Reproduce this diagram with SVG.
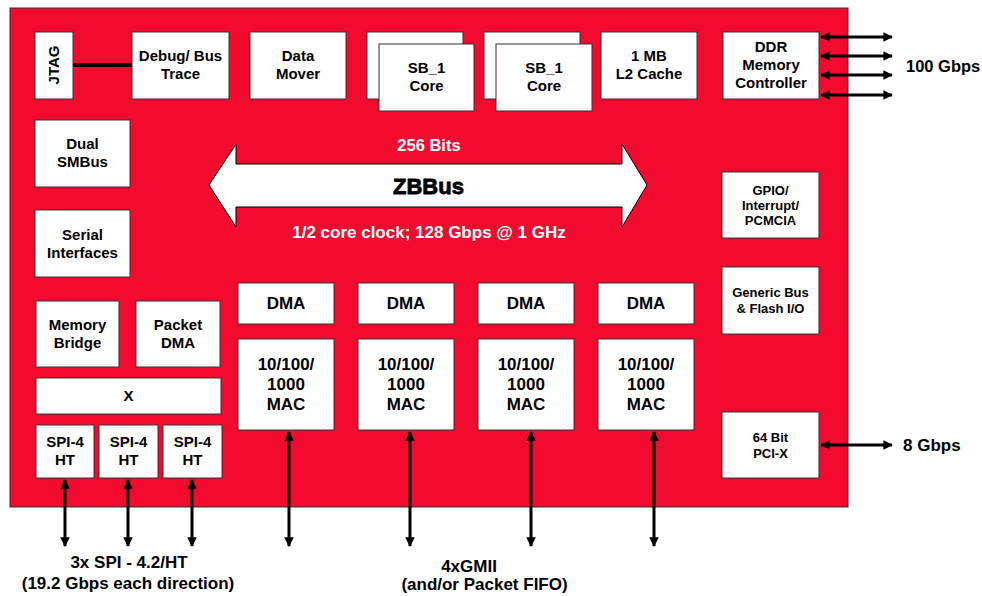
<svg xmlns="http://www.w3.org/2000/svg" width="982" height="596" viewBox="0 0 982 596">
<defs>
<marker id="ah" viewBox="0 0 10 10" refX="9" refY="5" markerWidth="3.6" markerHeight="3.2" orient="auto-start-reverse" markerUnits="strokeWidth">
<path d="M0,0 L10,5 L0,10 z" fill="#000"/>
</marker>
<style>
.bx{fill:#fff;stroke:#333;stroke-width:1}
.t{font-family:"Liberation Sans",Arial,sans-serif;font-weight:bold;fill:#000;text-anchor:middle}
.s14{font-size:15px}
.s16{font-size:17px}
.s12{font-size:13px}
.w{fill:#fff}
.cn{stroke:#000;stroke-width:3;fill:none;marker-start:url(#ah);marker-end:url(#ah)}
</style>
</defs>
<rect x="10" y="8" width="838" height="499" fill="#F50A2F" stroke="#333" stroke-width="1"/>

<g id="connectors">
<line x1="73" y1="65" x2="132" y2="65" stroke="#000" stroke-width="4"/>
<line class="cn" x1="821" y1="37" x2="892" y2="37"/>
<line class="cn" x1="821" y1="56" x2="892" y2="56"/>
<line class="cn" x1="821" y1="75" x2="892" y2="75"/>
<line class="cn" x1="821" y1="95" x2="892" y2="95"/>
<line class="cn" x1="821" y1="445" x2="892" y2="445"/>
<line class="cn" x1="65" y1="480" x2="65" y2="546"/>
<line class="cn" x1="128" y1="480" x2="128" y2="546"/>
<line class="cn" x1="192" y1="480" x2="192" y2="546"/>
<line class="cn" x1="289" y1="432" x2="289" y2="546"/>
<line class="cn" x1="410" y1="432" x2="410" y2="546"/>
<line class="cn" x1="531" y1="432" x2="531" y2="546"/>
<line class="cn" x1="654" y1="432" x2="654" y2="546"/>
</g>

<g id="zbbus">
<polygon points="209,185 236,144 236,164 622,164 622,144 647,185 622,227 622,207 236,207 236,227" fill="#fff" stroke="#000" stroke-width="1"/>
<text class="t w" x="429" y="151" font-size="16.5">256 Bits</text>
<text class="t" x="428.5" y="194" font-size="22" stroke="#000" stroke-width="0.8">ZBBus</text>
<text class="t w" x="429" y="238" font-size="17">1/2 core clock; 128 Gbps @ 1 GHz</text>
</g>

<g id="jtag"><rect class="bx" x="35" y="32" width="38" height="67"/><text class="t s14" transform="translate(59,65) rotate(-90)">JTAG</text></g>
<g id="debug"><rect class="bx" x="132" y="32" width="97" height="67"/><text class="t s14" x="180.5" y="61">Debug/ Bus</text><text class="t s14" x="180.5" y="79">Trace</text></g>
<g id="datamover"><rect class="bx" x="250" y="32" width="96" height="67"/><text class="t s14" x="298" y="61">Data</text><text class="t s14" x="298" y="79">Mover</text></g>
<g id="sb1a"><rect class="bx" x="367" y="32" width="96" height="67"/><rect class="bx" x="379" y="44" width="95" height="67"/><text class="t s14" x="426.5" y="73">SB_1</text><text class="t s14" x="426.5" y="91">Core</text></g>
<g id="sb1b"><rect class="bx" x="484" y="32" width="96" height="67"/><rect class="bx" x="496" y="44" width="96" height="67"/><text class="t s14" x="544" y="73">SB_1</text><text class="t s14" x="544" y="91">Core</text></g>
<g id="l2"><rect class="bx" x="601" y="32" width="96" height="67"/><text class="t s14" x="649" y="61">1 MB</text><text class="t s14" x="649" y="79">L2 Cache</text></g>
<g id="ddr"><rect class="bx" x="723" y="32" width="96" height="67"/><text class="t s14" x="771" y="52">DDR</text><text class="t s14" x="771" y="70">Memory</text><text class="t s14" x="771" y="88">Controller</text></g>
<text class="t" font-size="16.5" x="906" y="72" style="text-anchor:start">100 Gbps</text>

<g id="smbus"><rect class="bx" x="35" y="120" width="95" height="67"/><text class="t s14" x="82.5" y="149">Dual</text><text class="t s14" x="82.5" y="167">SMBus</text></g>
<g id="serial"><rect class="bx" x="35" y="210" width="95" height="67"/><text class="t s14" x="82.5" y="240">Serial</text><text class="t s14" x="82.5" y="258">Interfaces</text></g>

<g id="gpio"><rect class="bx" x="722" y="172" width="97" height="66"/><text class="t s12" x="770.5" y="195">GPIO/</text><text class="t s12" x="770.5" y="210">Interrupt/</text><text class="t s12" x="770.5" y="225">PCMCIA</text></g>
<g id="generic"><rect class="bx" x="722" y="267" width="97" height="67"/><text class="t s12" x="770.5" y="297">Generic Bus</text><text class="t s12" x="770.5" y="313">&amp; Flash I/O</text></g>
<g id="pcix"><rect class="bx" x="722" y="412" width="97" height="66"/><text class="t s12" x="770.5" y="442">64 Bit</text><text class="t s12" x="770.5" y="458">PCI-X</text></g>
<text class="t" font-size="17" x="903" y="451" style="text-anchor:start">8 Gbps</text>

<g id="membridge"><rect class="bx" x="36" y="301" width="83" height="66"/><text class="t s14" x="77.5" y="330">Memory</text><text class="t s14" x="77.5" y="348">Bridge</text></g>
<g id="packetdma"><rect class="bx" x="136" y="301" width="84" height="66"/><text class="t s14" x="178" y="330">Packet</text><text class="t s14" x="178" y="348">DMA</text></g>
<g id="x"><rect class="bx" x="36" y="378" width="185" height="36"/><text class="t s14" x="128.5" y="401">X</text></g>
<g id="spi1"><rect class="bx" x="36" y="425" width="58" height="53"/><text class="t s14" x="65" y="447">SPI-4</text><text class="t s14" x="65" y="465">HT</text></g>
<g id="spi2"><rect class="bx" x="99" y="425" width="59" height="53"/><text class="t s14" x="128.5" y="447">SPI-4</text><text class="t s14" x="128.5" y="465">HT</text></g>
<g id="spi3"><rect class="bx" x="163" y="425" width="59" height="53"/><text class="t s14" x="192.5" y="447">SPI-4</text><text class="t s14" x="192.5" y="465">HT</text></g>

<g id="dma1"><rect class="bx" x="238" y="283" width="96" height="41"/><text class="t s16" x="286" y="309">DMA</text></g>
<g id="dma2"><rect class="bx" x="358" y="283" width="96" height="41"/><text class="t s16" x="406" y="309">DMA</text></g>
<g id="dma3"><rect class="bx" x="478" y="283" width="96" height="41"/><text class="t s16" x="526" y="309">DMA</text></g>
<g id="dma4"><rect class="bx" x="598" y="283" width="96" height="41"/><text class="t s16" x="646" y="309">DMA</text></g>

<g id="mac1"><rect class="bx" x="238" y="339" width="96" height="91"/><text class="t s16" x="286" y="370">10/100/</text><text class="t s16" x="286" y="390">1000</text><text class="t s16" x="286" y="410">MAC</text></g>
<g id="mac2"><rect class="bx" x="358" y="339" width="96" height="91"/><text class="t s16" x="406" y="370">10/100/</text><text class="t s16" x="406" y="390">1000</text><text class="t s16" x="406" y="410">MAC</text></g>
<g id="mac3"><rect class="bx" x="478" y="339" width="96" height="91"/><text class="t s16" x="526" y="370">10/100/</text><text class="t s16" x="526" y="390">1000</text><text class="t s16" x="526" y="410">MAC</text></g>
<g id="mac4"><rect class="bx" x="598" y="339" width="96" height="91"/><text class="t s16" x="646" y="370">10/100/</text><text class="t s16" x="646" y="390">1000</text><text class="t s16" x="646" y="410">MAC</text></g>

<text class="t" x="129" y="568" font-size="17">3x SPI - 4.2/HT</text>
<text class="t" x="128" y="589" font-size="17">(19.2 Gbps each direction)</text>
<text class="t" x="469" y="572" font-size="17">4xGMII</text>
<text class="t" x="484.5" y="590" font-size="17">(and/or Packet FIFO)</text>
</svg>
